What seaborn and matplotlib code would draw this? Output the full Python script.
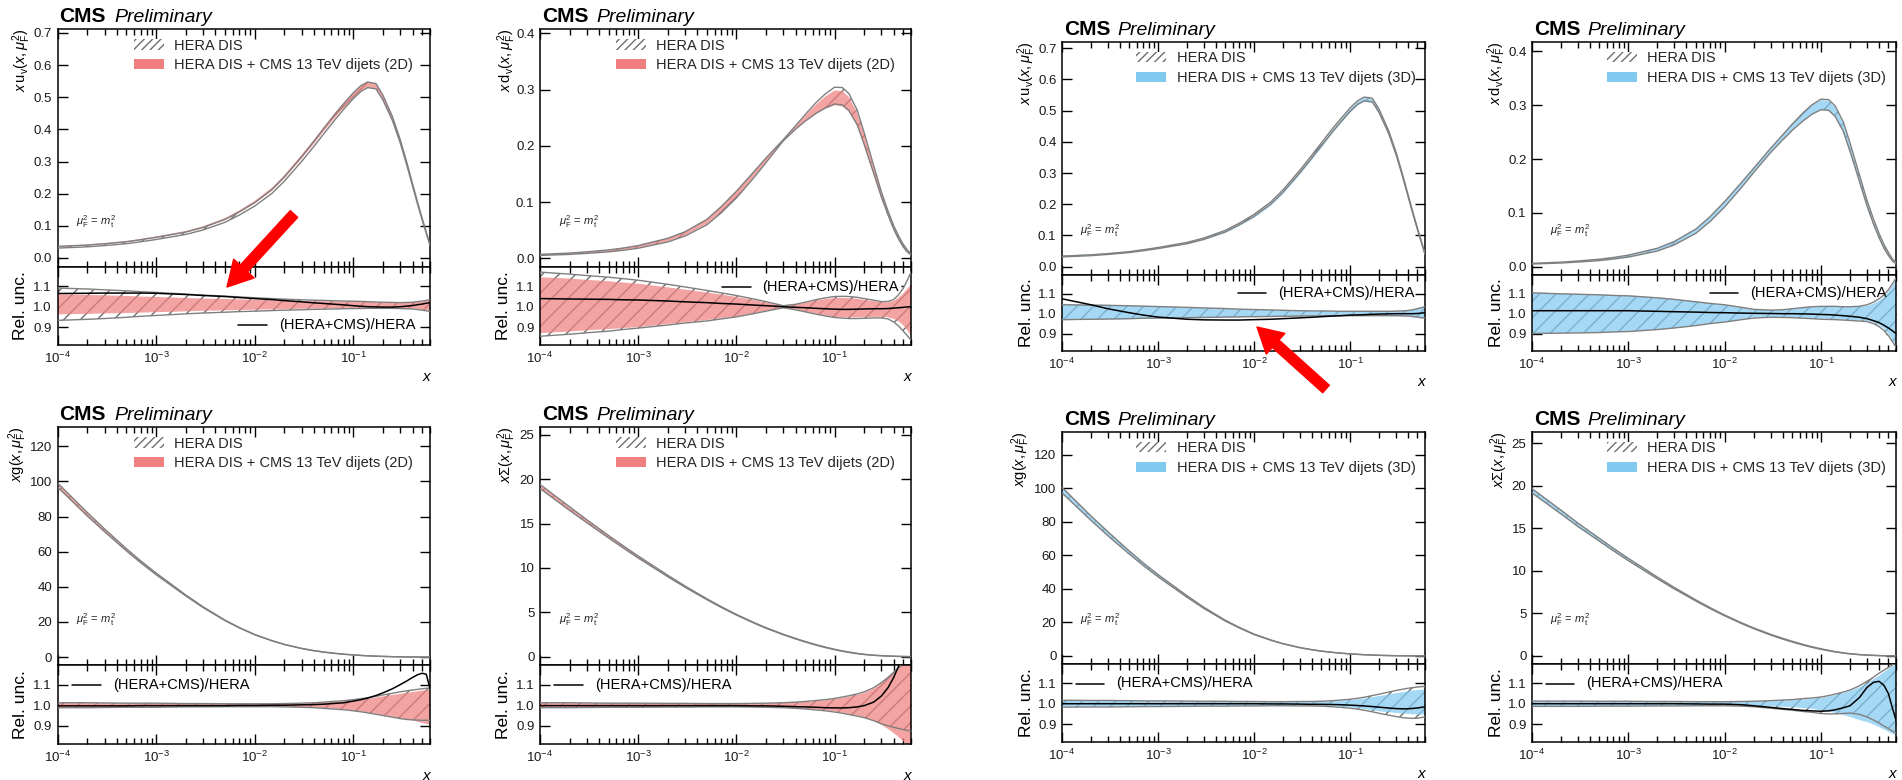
import numpy as np
import matplotlib
matplotlib.use('Agg')
import matplotlib.pyplot as plt
import seaborn as sns
from matplotlib.patches import Patch, FancyArrowPatch
from matplotlib.transforms import IdentityTransform
from matplotlib.ticker import LogLocator, FixedLocator, FormatStrFormatter, NullLocator, NullFormatter, LogFormatterMathtext

sns.set_theme(style='ticks')
plt.rcParams['font.family'] = ['Liberation Sans', 'DejaVu Sans']
plt.rcParams['mathtext.fontset'] = 'custom'
plt.rcParams['mathtext.rm'] = 'Liberation Sans'
plt.rcParams['mathtext.it'] = 'Liberation Sans:italic'
plt.rcParams['mathtext.bf'] = 'Liberation Sans:bold'
plt.rcParams['mathtext.sf'] = 'Liberation Sans'
plt.rcParams['hatch.linewidth'] = 1.0

# ---------------- data ----------------
x_grid = [1e-4, 2e-4, 3e-4, 5e-4, 7e-4, 1e-3, 2e-3, 3e-3, 5e-3, 7e-3, 1e-2, 1.5e-2, 2e-2, 3e-2, 4e-2, 5e-2,
          6.5e-2, 0.08, 0.1, 0.12, 0.14, 0.17, 0.2, 0.25, 0.3, 0.35, 0.4, 0.45, 0.5, 0.55, 0.6]

# top row, 2D: x u_v
uv2d_central = [0.033, 0.037, 0.041, 0.047, 0.053, 0.060, 0.076, 0.090, 0.114, 0.137, 0.165, 0.205, 0.243, 0.305, 0.352, 0.390, 0.434, 0.467, 0.500, 0.523, 0.534, 0.530, 0.495, 0.430, 0.360, 0.290, 0.225, 0.168, 0.120, 0.078, 0.040]
uv2d_hera_hi = [1.092, 1.087, 1.083, 1.078, 1.074, 1.070, 1.062, 1.057, 1.052, 1.048, 1.044, 1.040, 1.037, 1.034, 1.032, 1.031, 1.029, 1.028, 1.027, 1.026, 1.025, 1.023, 1.022, 1.021, 1.020, 1.021, 1.022, 1.025, 1.028, 1.031, 1.035]
uv2d_hera_lo = [0.933, 0.938, 0.942, 0.948, 0.953, 0.957, 0.965, 0.969, 0.973, 0.976, 0.978, 0.981, 0.983, 0.985, 0.987, 0.988, 0.989, 0.990, 0.991, 0.991, 0.992, 0.992, 0.992, 0.992, 0.991, 0.990, 0.989, 0.986, 0.983, 0.980, 0.977]
uv2d_cms_hi = [1.062, 1.058, 1.056, 1.053, 1.050, 1.048, 1.043, 1.040, 1.038, 1.036, 1.034, 1.032, 1.030, 1.028, 1.027, 1.027, 1.026, 1.025, 1.024, 1.023, 1.023, 1.022, 1.021, 1.021, 1.021, 1.021, 1.022, 1.024, 1.026, 1.029, 1.032]
uv2d_cms_lo = [0.962, 0.965, 0.967, 0.969, 0.971, 0.973, 0.977, 0.980, 0.982, 0.984, 0.985, 0.987, 0.988, 0.990, 0.991, 0.991, 0.992, 0.993, 0.994, 0.994, 0.995, 0.995, 0.995, 0.995, 0.994, 0.993, 0.992, 0.989, 0.986, 0.983, 0.980]
uv2d_ratio = [1.065, 1.066, 1.067, 1.067, 1.067, 1.066, 1.060, 1.055, 1.050, 1.045, 1.040, 1.035, 1.030, 1.024, 1.019, 1.016, 1.012, 1.009, 1.005, 1.002, 1.000, 0.999, 0.998, 0.998, 1.000, 1.003, 1.006, 1.010, 1.013, 1.017, 1.020]

# top row, 2D: x d_v
dv2d_central = [0.006, 0.008, 0.010, 0.013, 0.016, 0.020, 0.032, 0.043, 0.064, 0.086, 0.113, 0.148, 0.174, 0.210, 0.233, 0.250, 0.268, 0.280, 0.290, 0.289, 0.279, 0.252, 0.215, 0.160, 0.115, 0.082, 0.056, 0.037, 0.023, 0.013, 0.007]
dv2d_hera_hi = [1.170, 1.160, 1.153, 1.145, 1.138, 1.130, 1.110, 1.097, 1.080, 1.068, 1.055, 1.038, 1.025, 1.005, 1.012, 1.022, 1.035, 1.043, 1.050, 1.051, 1.050, 1.046, 1.040, 1.032, 1.025, 1.026, 1.035, 1.060, 1.090, 1.130, 1.170]
dv2d_hera_lo = [0.855, 0.865, 0.872, 0.880, 0.888, 0.895, 0.910, 0.920, 0.930, 0.940, 0.950, 0.966, 0.978, 0.995, 0.985, 0.975, 0.963, 0.955, 0.947, 0.944, 0.942, 0.942, 0.943, 0.945, 0.945, 0.940, 0.925, 0.905, 0.880, 0.858, 0.835]
dv2d_cms_hi = [1.145, 1.138, 1.132, 1.125, 1.119, 1.113, 1.095, 1.084, 1.070, 1.060, 1.048, 1.033, 1.022, 1.004, 1.010, 1.019, 1.030, 1.037, 1.042, 1.043, 1.042, 1.039, 1.034, 1.027, 1.022, 1.022, 1.028, 1.045, 1.065, 1.088, 1.110]
dv2d_cms_lo = [0.870, 0.878, 0.884, 0.890, 0.895, 0.900, 0.915, 0.924, 0.935, 0.944, 0.952, 0.968, 0.980, 0.996, 0.987, 0.977, 0.966, 0.958, 0.950, 0.948, 0.948, 0.948, 0.949, 0.950, 0.950, 0.948, 0.940, 0.928, 0.908, 0.885, 0.860]
dv2d_ratio = [1.040, 1.038, 1.037, 1.036, 1.034, 1.033, 1.028, 1.024, 1.020, 1.016, 1.013, 1.008, 1.005, 1.000, 0.997, 0.995, 0.992, 0.990, 0.988, 0.987, 0.987, 0.988, 0.989, 0.990, 0.990, 0.991, 0.993, 0.995, 0.997, 0.999, 1.000]

# top row, 3D: x u_v
uv3d_central = [0.032, 0.036, 0.040, 0.046, 0.052, 0.059, 0.075, 0.089, 0.113, 0.136, 0.164, 0.204, 0.242, 0.305, 0.353, 0.391, 0.436, 0.469, 0.503, 0.526, 0.537, 0.533, 0.498, 0.432, 0.362, 0.292, 0.227, 0.170, 0.121, 0.079, 0.040]
uv3d_hera_hi = [1.045, 1.043, 1.042, 1.040, 1.038, 1.036, 1.032, 1.029, 1.026, 1.023, 1.021, 1.019, 1.017, 1.015, 1.014, 1.014, 1.013, 1.012, 1.012, 1.012, 1.012, 1.012, 1.012, 1.012, 1.013, 1.014, 1.016, 1.020, 1.025, 1.030, 1.035]
uv3d_hera_lo = [0.970, 0.972, 0.973, 0.975, 0.977, 0.978, 0.980, 0.981, 0.983, 0.984, 0.985, 0.986, 0.987, 0.988, 0.989, 0.989, 0.990, 0.990, 0.990, 0.990, 0.990, 0.990, 0.990, 0.990, 0.990, 0.989, 0.988, 0.986, 0.983, 0.980, 0.978]
uv3d_cms_hi = [1.050, 1.047, 1.045, 1.043, 1.040, 1.037, 1.032, 1.029, 1.025, 1.022, 1.020, 1.018, 1.016, 1.014, 1.013, 1.013, 1.012, 1.012, 1.012, 1.012, 1.012, 1.012, 1.012, 1.012, 1.013, 1.015, 1.018, 1.022, 1.028, 1.034, 1.040]
uv3d_cms_lo = [0.967, 0.969, 0.970, 0.972, 0.974, 0.975, 0.978, 0.980, 0.981, 0.982, 0.983, 0.984, 0.985, 0.986, 0.987, 0.987, 0.988, 0.988, 0.988, 0.988, 0.988, 0.988, 0.988, 0.988, 0.987, 0.986, 0.985, 0.982, 0.979, 0.977, 0.975]
uv3d_ratio = [1.075, 1.045, 1.025, 1.005, 0.993, 0.983, 0.972, 0.969, 0.968, 0.968, 0.970, 0.972, 0.975, 0.979, 0.982, 0.985, 0.988, 0.990, 0.993, 0.994, 0.995, 0.997, 0.998, 0.999, 1.000, 1.000, 1.000, 1.000, 1.001, 1.003, 1.005]

# top row, 3D: x d_v
dv3d_central = [0.006, 0.008, 0.010, 0.013, 0.016, 0.020, 0.032, 0.044, 0.066, 0.088, 0.116, 0.152, 0.179, 0.216, 0.240, 0.258, 0.277, 0.290, 0.300, 0.299, 0.288, 0.260, 0.222, 0.165, 0.118, 0.084, 0.058, 0.038, 0.024, 0.013, 0.007]
dv3d_hera_hi = [1.105, 1.100, 1.098, 1.095, 1.092, 1.090, 1.080, 1.072, 1.060, 1.052, 1.045, 1.032, 1.022, 1.018, 1.020, 1.025, 1.031, 1.035, 1.037, 1.037, 1.037, 1.035, 1.035, 1.037, 1.045, 1.058, 1.075, 1.095, 1.120, 1.150, 1.180]
dv3d_hera_lo = [0.900, 0.902, 0.903, 0.905, 0.908, 0.910, 0.920, 0.928, 0.940, 0.950, 0.958, 0.970, 0.978, 0.982, 0.981, 0.980, 0.977, 0.975, 0.972, 0.971, 0.970, 0.968, 0.966, 0.963, 0.960, 0.950, 0.935, 0.915, 0.890, 0.860, 0.830]
dv3d_cms_hi = [1.108, 1.103, 1.100, 1.097, 1.094, 1.092, 1.082, 1.074, 1.062, 1.053, 1.045, 1.032, 1.022, 1.018, 1.020, 1.024, 1.029, 1.033, 1.035, 1.035, 1.035, 1.033, 1.033, 1.035, 1.040, 1.050, 1.065, 1.085, 1.110, 1.140, 1.170]
dv3d_cms_lo = [0.900, 0.903, 0.904, 0.906, 0.908, 0.910, 0.920, 0.928, 0.940, 0.950, 0.958, 0.972, 0.982, 0.984, 0.982, 0.980, 0.978, 0.976, 0.975, 0.974, 0.973, 0.971, 0.969, 0.966, 0.963, 0.955, 0.942, 0.925, 0.900, 0.870, 0.840]
dv3d_ratio = [1.015, 1.015, 1.015, 1.015, 1.015, 1.015, 1.012, 1.010, 1.008, 1.006, 1.005, 1.003, 1.002, 1.001, 1.000, 1.000, 0.999, 0.998, 0.996, 0.995, 0.993, 0.990, 0.987, 0.982, 0.975, 0.965, 0.955, 0.942, 0.928, 0.914, 0.900]

# bottom row, 2D: x g
g2d_central = [98.0, 81.4, 72.2, 61.1, 54.2, 47.4, 35.1, 28.4, 20.9, 16.7, 12.8, 9.3, 7.2, 4.9, 3.65, 2.87, 2.13, 1.65, 1.22, 0.94, 0.74, 0.53, 0.39, 0.24, 0.153, 0.10, 0.065, 0.040, 0.024, 0.013, 0.006]
g2d_hera_hi = [1.012, 1.012, 1.011, 1.010, 1.010, 1.010, 1.008, 1.008, 1.007, 1.007, 1.007, 1.007, 1.008, 1.010, 1.012, 1.015, 1.019, 1.022, 1.027, 1.032, 1.036, 1.043, 1.050, 1.058, 1.065, 1.070, 1.074, 1.077, 1.080, 1.082, 1.083]
g2d_hera_lo = [0.988, 0.988, 0.989, 0.990, 0.990, 0.990, 0.992, 0.992, 0.993, 0.993, 0.993, 0.993, 0.992, 0.990, 0.988, 0.985, 0.981, 0.978, 0.973, 0.968, 0.963, 0.956, 0.950, 0.942, 0.935, 0.931, 0.929, 0.928, 0.927, 0.927, 0.927]
g2d_cms_hi = [1.010, 1.010, 1.009, 1.008, 1.008, 1.008, 1.007, 1.007, 1.006, 1.006, 1.006, 1.006, 1.007, 1.009, 1.011, 1.013, 1.016, 1.019, 1.023, 1.027, 1.031, 1.037, 1.043, 1.050, 1.055, 1.060, 1.064, 1.068, 1.071, 1.073, 1.075]
g2d_cms_lo = [0.990, 0.990, 0.991, 0.992, 0.992, 0.992, 0.993, 0.993, 0.994, 0.994, 0.994, 0.994, 0.993, 0.991, 0.989, 0.987, 0.984, 0.980, 0.975, 0.970, 0.966, 0.959, 0.952, 0.944, 0.938, 0.932, 0.926, 0.920, 0.914, 0.910, 0.905]
g2d_ratio = [0.997, 0.997, 0.997, 0.997, 0.998, 0.998, 0.998, 0.998, 0.998, 0.999, 0.999, 1.000, 1.000, 1.002, 1.003, 1.005, 1.009, 1.012, 1.020, 1.027, 1.035, 1.047, 1.060, 1.080, 1.100, 1.118, 1.135, 1.148, 1.155, 1.150, 1.080]

# bottom row, 2D: x Sigma
s2d_central = [19.2, 16.7, 15.27, 13.52, 12.4, 11.24, 9.1, 7.9, 6.48, 5.6, 4.73, 3.83, 3.24, 2.5, 2.03, 1.69, 1.32, 1.06, 0.81, 0.63, 0.50, 0.355, 0.255, 0.16, 0.105, 0.07, 0.045, 0.028, 0.017, 0.010, 0.005]
s2d_hera_hi = [1.012, 1.012, 1.011, 1.010, 1.010, 1.010, 1.009, 1.009, 1.008, 1.008, 1.008, 1.009, 1.010, 1.012, 1.015, 1.018, 1.023, 1.027, 1.033, 1.040, 1.046, 1.055, 1.065, 1.085, 1.110, 1.135, 1.160, 1.185, 1.210, 1.230, 1.250]
s2d_hera_lo = [0.988, 0.988, 0.989, 0.990, 0.990, 0.990, 0.991, 0.991, 0.992, 0.992, 0.992, 0.991, 0.990, 0.988, 0.985, 0.982, 0.977, 0.973, 0.967, 0.961, 0.955, 0.947, 0.940, 0.925, 0.910, 0.900, 0.893, 0.887, 0.882, 0.878, 0.875]
s2d_cms_hi = [1.010, 1.010, 1.009, 1.009, 1.009, 1.009, 1.008, 1.008, 1.007, 1.007, 1.007, 1.008, 1.009, 1.011, 1.013, 1.016, 1.020, 1.024, 1.030, 1.036, 1.042, 1.050, 1.060, 1.080, 1.105, 1.130, 1.155, 1.180, 1.205, 1.225, 1.245]
s2d_cms_lo = [0.990, 0.990, 0.991, 0.991, 0.991, 0.991, 0.992, 0.992, 0.993, 0.993, 0.993, 0.992, 0.991, 0.989, 0.987, 0.984, 0.980, 0.976, 0.970, 0.964, 0.958, 0.950, 0.942, 0.925, 0.905, 0.885, 0.865, 0.845, 0.825, 0.805, 0.790]
s2d_ratio = [0.998, 0.998, 0.998, 0.998, 0.998, 0.998, 0.998, 0.998, 0.998, 0.998, 0.998, 0.997, 0.997, 0.995, 0.993, 0.992, 0.990, 0.988, 0.987, 0.987, 0.988, 0.992, 0.998, 1.015, 1.045, 1.085, 1.135, 1.190, 1.240, 1.280, 1.300]

# bottom row, 3D: x g
g3d_central = [99.0, 82.3, 73.0, 61.8, 54.8, 47.9, 35.5, 28.7, 21.1, 16.9, 12.9, 9.4, 7.3, 4.95, 3.7, 2.9, 2.15, 1.67, 1.23, 0.95, 0.75, 0.54, 0.39, 0.24, 0.153, 0.10, 0.065, 0.040, 0.024, 0.013, 0.006]
g3d_hera_hi = [1.017, 1.016, 1.016, 1.015, 1.014, 1.014, 1.013, 1.012, 1.012, 1.011, 1.011, 1.010, 1.010, 1.011, 1.011, 1.012, 1.015, 1.018, 1.022, 1.027, 1.032, 1.040, 1.047, 1.057, 1.065, 1.071, 1.076, 1.079, 1.082, 1.084, 1.085]
g3d_hera_lo = [0.983, 0.984, 0.984, 0.985, 0.986, 0.986, 0.987, 0.988, 0.988, 0.989, 0.989, 0.990, 0.990, 0.989, 0.989, 0.988, 0.985, 0.982, 0.978, 0.973, 0.968, 0.960, 0.953, 0.944, 0.937, 0.932, 0.929, 0.928, 0.929, 0.932, 0.935]
g3d_cms_hi = [1.015, 1.014, 1.014, 1.013, 1.012, 1.012, 1.011, 1.010, 1.010, 1.010, 1.010, 1.009, 1.009, 1.009, 1.010, 1.010, 1.012, 1.015, 1.018, 1.022, 1.026, 1.032, 1.038, 1.045, 1.052, 1.057, 1.061, 1.065, 1.067, 1.069, 1.070]
g3d_cms_lo = [0.985, 0.986, 0.986, 0.987, 0.988, 0.988, 0.989, 0.990, 0.990, 0.990, 0.990, 0.991, 0.991, 0.991, 0.990, 0.990, 0.988, 0.985, 0.982, 0.978, 0.974, 0.968, 0.963, 0.958, 0.955, 0.952, 0.950, 0.948, 0.947, 0.947, 0.947]
g3d_ratio = [1.000, 1.000, 1.000, 1.000, 1.000, 1.000, 1.000, 1.000, 1.000, 1.000, 1.000, 0.999, 0.999, 0.998, 0.997, 0.997, 0.996, 0.995, 0.993, 0.991, 0.989, 0.986, 0.983, 0.979, 0.976, 0.975, 0.975, 0.977, 0.979, 0.982, 0.985]

# bottom row, 3D: x Sigma
s3d_central = [19.4, 16.9, 15.4, 13.65, 12.5, 11.33, 9.17, 7.96, 6.53, 5.64, 4.76, 3.85, 3.26, 2.51, 2.04, 1.70, 1.33, 1.07, 0.82, 0.64, 0.50, 0.355, 0.255, 0.16, 0.105, 0.07, 0.045, 0.028, 0.017, 0.010, 0.005]
s3d_hera_hi = [1.013, 1.013, 1.013, 1.012, 1.012, 1.012, 1.011, 1.011, 1.010, 1.010, 1.010, 1.011, 1.012, 1.015, 1.018, 1.020, 1.025, 1.028, 1.033, 1.040, 1.047, 1.057, 1.067, 1.088, 1.110, 1.130, 1.150, 1.165, 1.178, 1.190, 1.200]
s3d_hera_lo = [0.987, 0.987, 0.987, 0.988, 0.988, 0.988, 0.989, 0.989, 0.990, 0.990, 0.990, 0.988, 0.985, 0.978, 0.972, 0.968, 0.962, 0.958, 0.952, 0.950, 0.950, 0.952, 0.954, 0.948, 0.935, 0.920, 0.905, 0.890, 0.878, 0.866, 0.855]
s3d_cms_hi = [1.012, 1.012, 1.012, 1.011, 1.011, 1.011, 1.010, 1.010, 1.009, 1.009, 1.009, 1.009, 1.010, 1.012, 1.015, 1.017, 1.021, 1.024, 1.030, 1.036, 1.042, 1.052, 1.062, 1.080, 1.100, 1.120, 1.138, 1.155, 1.170, 1.183, 1.195]
s3d_cms_lo = [0.988, 0.988, 0.988, 0.989, 0.989, 0.989, 0.990, 0.990, 0.991, 0.991, 0.991, 0.991, 0.990, 0.988, 0.985, 0.983, 0.979, 0.975, 0.968, 0.962, 0.955, 0.945, 0.935, 0.920, 0.910, 0.898, 0.886, 0.874, 0.862, 0.852, 0.845]
s3d_ratio = [1.000, 1.000, 1.000, 1.000, 1.000, 1.000, 1.000, 1.000, 0.999, 0.998, 0.998, 0.995, 0.990, 0.982, 0.976, 0.972, 0.967, 0.965, 0.963, 0.965, 0.970, 0.980, 0.990, 1.030, 1.080, 1.105, 1.110, 1.090, 1.050, 0.980, 0.920]

yticks_uv = [0.0, 0.1, 0.2, 0.3, 0.4, 0.5, 0.6, 0.7]
yticks_dv = [0.0, 0.1, 0.2, 0.3, 0.4]
yticks_g = [0, 20, 40, 60, 80, 100, 120]
yticks_s = [0, 5, 10, 15, 20, 25]
yticks_ratio = [0.9, 1.0, 1.1]

ylabel_uv = r'$x\,\mathrm{u}_{\mathrm{v}}(x,\mu_{\mathrm{F}}^{2})$'
ylabel_dv = r'$x\,\mathrm{d}_{\mathrm{v}}(x,\mu_{\mathrm{F}}^{2})$'
ylabel_g = r'$x\mathrm{g}(x,\mu_{\mathrm{F}}^{2})$'
ylabel_s = r'$x\Sigma(x,\mu_{\mathrm{F}}^{2})$'

legend_hera = 'HERA DIS'
legend_2d = 'HERA DIS + CMS 13 TeV dijets (2D)'
legend_3d = 'HERA DIS + CMS 13 TeV dijets (3D)'
ratio_label = '(HERA+CMS)/HERA'

RED = '#f08080'
BLUE = '#82c9f0'
HATCH_C = '#6e6e6e'
EDGE_C = '#7f7f7f'

W, H = 1902, 780
fig = plt.figure(figsize=(W / 100, H / 100), dpi=100)

cols_left = [(57.5, 430), (540, 911)]
cols_right = [(1062, 1425), (1532, 1896)]

panels = [
    dict(cx=cols_left[0], rows=(29, 267, 345), c=uv2d_central, hh=uv2d_hera_hi, hl=uv2d_hera_lo, ch=uv2d_cms_hi, cl=uv2d_cms_lo, r=uv2d_ratio,
         col=RED, leg=legend_2d, yl=ylabel_uv, ylx=-0.097, yt=yticks_uv, fmt='%.1f', ylim=(-0.028, 0.712), rpos=(0.485, 0.256)),
    dict(cx=cols_left[1], rows=(29, 267, 345), c=dv2d_central, hh=dv2d_hera_hi, hl=dv2d_hera_lo, ch=dv2d_cms_hi, cl=dv2d_cms_lo, r=dv2d_ratio,
         col=RED, leg=legend_2d, yl=ylabel_dv, ylx=-0.09, yt=yticks_dv, fmt='%.1f', ylim=(-0.0155, 0.408), rpos=(0.49, 0.75)),
    dict(cx=cols_right[0], rows=(42, 275, 351), c=uv3d_central, hh=uv3d_hera_hi, hl=uv3d_hera_lo, ch=uv3d_cms_hi, cl=uv3d_cms_lo, r=uv3d_ratio,
         col=BLUE, leg=legend_3d, yl=ylabel_uv, ylx=-0.097, yt=yticks_uv, fmt='%.1f', ylim=(-0.027, 0.72), rpos=(0.485, 0.76)),
    dict(cx=cols_right[1], rows=(42, 275, 351), c=dv3d_central, hh=dv3d_hera_hi, hl=dv3d_hera_lo, ch=dv3d_cms_hi, cl=dv3d_cms_lo, r=dv3d_ratio,
         col=BLUE, leg=legend_3d, yl=ylabel_dv, ylx=-0.097, yt=yticks_dv, fmt='%.1f', ylim=(-0.015, 0.417), rpos=(0.489, 0.76)),
    dict(cx=cols_left[0], rows=(427, 665, 744), c=g2d_central, hh=g2d_hera_hi, hl=g2d_hera_lo, ch=g2d_cms_hi, cl=g2d_cms_lo, r=g2d_ratio,
         col=RED, leg=legend_2d, yl=ylabel_g, ylx=-0.107, yt=yticks_g, fmt='%d', ylim=(-4.5, 131.0), rpos=(0.038, 0.75)),
    dict(cx=cols_left[1], rows=(427, 665, 744), c=s2d_central, hh=s2d_hera_hi, hl=s2d_hera_lo, ch=s2d_cms_hi, cl=s2d_cms_lo, r=s2d_ratio,
         col=RED, leg=legend_2d, yl=ylabel_s, ylx=-0.089, yt=yticks_s, fmt='%d', ylim=(-0.94, 25.9), rpos=(0.038, 0.75)),
    dict(cx=cols_right[0], rows=(432, 664, 742), c=g3d_central, hh=g3d_hera_hi, hl=g3d_hera_lo, ch=g3d_cms_hi, cl=g3d_cms_lo, r=g3d_ratio,
         col=BLUE, leg=legend_3d, yl=ylabel_g, ylx=-0.115, yt=yticks_g, fmt='%d', ylim=(-4.8, 133.7), rpos=(0.038, 0.75)),
    dict(cx=cols_right[1], rows=(432, 664, 742), c=s3d_central, hh=s3d_hera_hi, hl=s3d_hera_lo, ch=s3d_cms_hi, cl=s3d_cms_lo, r=s3d_ratio,
         col=BLUE, leg=legend_3d, yl=ylabel_s, ylx=-0.088, yt=yticks_s, fmt='%d', ylim=(-0.94, 26.3), rpos=(0.038, 0.75)),
]


def rect(l, r, t, b):
    return [l / W, 1 - b / H, (r - l) / W, (b - t) / H]


def style_axes(ax):
    ax.set_xscale('log')
    ax.set_xlim(1e-4, 0.6)
    ax.xaxis.set_major_locator(LogLocator(base=10, numticks=12))
    ax.xaxis.set_minor_locator(LogLocator(base=10, subs=np.arange(2, 10), numticks=12))
    ax.yaxis.set_minor_locator(NullLocator())
    ax.tick_params(which='both', direction='in', top=True, right=True, bottom=True, left=True,
                   width=1.0, color='black', labelsize=9.5, labelcolor='#1a1a1a')
    ax.tick_params(which='major', length=7.5, pad=4)
    ax.tick_params(which='minor', length=4.5)
    for s in ax.spines.values():
        s.set_linewidth(1.1)
        s.set_color('black')
    ax.set_facecolor('white')


def draw_bands(ax, xs, hlo, hhi, clo, chi, col):
    ax.fill_between(xs, hlo, hhi, facecolor='white', edgecolor=HATCH_C, hatch='//', linewidth=0, zorder=1)
    ax.fill_between(xs, clo, chi, facecolor=col, edgecolor='none', alpha=0.72, linewidth=0, zorder=2)
    sns.lineplot(x=xs, y=hlo, ax=ax, color=EDGE_C, linewidth=1.0, zorder=3, legend=False)
    sns.lineplot(x=xs, y=hhi, ax=ax, color=EDGE_C, linewidth=1.0, zorder=3, legend=False)


xs = np.array(x_grid)
for p in panels:
    l, r = p['cx']
    t, s, b = p['rows']
    axm = fig.add_axes(rect(l, r, t, s))
    axr = fig.add_axes(rect(l, r, s, b))
    for ax in (axm, axr):
        style_axes(ax)
    c = np.array(p['c'])
    hh, hl = np.array(p['hh']), np.array(p['hl'])
    ch, cl = np.array(p['ch']), np.array(p['cl'])
    rr = np.array(p['r'])
    cc = c * rr

    # main panel
    draw_bands(axm, xs, c * hl, c * hh, cc * cl, cc * ch, p['col'])
    axm.set_ylim(*p['ylim'])
    axm.yaxis.set_major_locator(FixedLocator(p['yt']))
    axm.yaxis.set_major_formatter(FormatStrFormatter(p['fmt']))
    axm.xaxis.set_major_formatter(NullFormatter())
    axm.tick_params(labelbottom=False)
    axm.set_xlabel('')
    axm.set_ylabel('')

    # ratio panel
    draw_bands(axr, xs, hl, hh, cl, ch, p['col'])
    sns.lineplot(x=xs, y=rr, ax=axr, color='black', linewidth=1.1, zorder=4, legend=False)
    axr.set_ylim(0.812, 1.195)
    axr.yaxis.set_major_locator(FixedLocator(yticks_ratio))
    axr.yaxis.set_major_formatter(FormatStrFormatter('%.1f'))
    axr.xaxis.set_major_formatter(LogFormatterMathtext())
    axr.set_xlabel('')
    axr.set_ylabel('')

    # texts
    axm.text(0.005, 1.0 + 7 / (s - t), 'CMS', transform=axm.transAxes, fontsize=15,
             fontweight='bold', va='baseline', ha='left', color='black')
    axm.text(0.153, 1.0 + 7 / (s - t), 'Preliminary', transform=axm.transAxes, fontsize=14,
             style='italic', va='baseline', ha='left', color='black')
    axm.text(p['ylx'], 1.0, p['yl'], transform=axm.transAxes, rotation=90, ha='center', va='top',
             fontsize=10.5, color='black')
    axr.text(-0.098, 0.5, 'Rel. unc.', transform=axr.transAxes, rotation=90, ha='center', va='center',
             fontsize=12.5, color='black')
    axr.text(1.0, -0.41, 'x', transform=axr.transAxes, ha='right', va='center', style='italic',
             fontsize=11, color='black')
    axm.text(0.05, 0.19, r'$\mu_{\mathrm{F}}^{2}\,=\,m_{\mathrm{t}}^{2}$', transform=axm.transAxes,
             ha='left', va='center', fontsize=8, color='#222222')

    # main legend
    handles = [Patch(facecolor='white', edgecolor=HATCH_C, hatch='////', linewidth=0, label=legend_hera),
               Patch(facecolor=p['col'], edgecolor='none', label=p['leg'])]
    axm.legend(handles=handles, loc='upper left', bbox_to_anchor=(0.205, 0.96), frameon=False,
               fontsize=10.5, handlelength=2.05, handleheight=0.72, handletextpad=0.7,
               labelspacing=0.38, borderpad=0.0, borderaxespad=0.0)

    # ratio legend
    rx, ry = p['rpos']
    axr.plot([rx, rx + 0.078], [ry, ry], transform=axr.transAxes, color='black', linewidth=1.1,
             zorder=6, clip_on=False)
    axr.text(rx + 0.11, ry, ratio_label, transform=axr.transAxes, ha='left', va='center',
             fontsize=10.5, color='black', zorder=6)

# red arrows (figure pixel coordinates, origin bottom-left)
arrow_style = 'simple,head_length=0.9,head_width=1.0,tail_width=0.36'
for (x0, y0), (x1, y1) in [((294, 214), (227, 287)), ((1326, 389), (1257, 327))]:
    arr = FancyArrowPatch((x0, H - y0), (x1, H - y1), arrowstyle=arrow_style, mutation_scale=20,
                          color='#ff0000', transform=IdentityTransform(), shrinkA=0, shrinkB=0,
                          zorder=20, clip_on=False)
    fig.add_artist(arr)

fig.savefig('out.png', dpi=100, facecolor='white')
